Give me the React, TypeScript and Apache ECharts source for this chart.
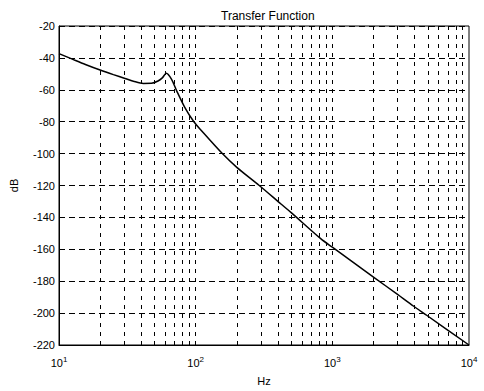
import React, { useEffect, useRef } from "react";
import * as echarts from "echarts";

const freqs = [10, 12.4, 15.6, 20, 25, 30.4, 35, 41.4, 47.5, 53, 57, 61, 66.5, 72.5, 83, 97, 110, 158, 200, 292, 421, 500, 822, 1000, 2000, 3000, 3940, 4930, 10000];
const magnitudes = [-37.3, -40.6, -44.1, -47.6, -50.5, -52.9, -54.6, -56, -55.9, -54.5, -52.5, -49.6, -53.3, -60.5, -70.8, -80, -85.5, -100.3, -108.6, -120, -131.6, -137, -153.3, -158.7, -177.4, -188.3, -195.7, -201.5, -220];
const gridFreqs = [20, 30, 40, 50, 60, 70, 80, 90, 100, 200, 300, 400, 500, 600, 700, 800, 900, 1000, 2000, 3000, 4000, 5000, 6000, 7000, 8000, 9000];
const yTicks = { min: -220, max: -20, interval: 20 };
const titleText = "Transfer Function";
const xName = "Hz";
const yName = "dB";

const FONT = "Liberation Sans, Arial, sans-serif";

export default function App() {
  const ref = useRef<HTMLDivElement>(null);
  useEffect(() => {
    if (!ref.current) return;
    const chart = echarts.init(ref.current, null, { renderer: "svg" });
    chart.setOption({
      animation: false,
      backgroundColor: "#fff",
      textStyle: { fontFamily: FONT, color: "#000" },
      title: {
        text: titleText,
        left: 216,
        top: 5,
        textStyle: { fontSize: 12, fontWeight: "normal", color: "#000", fontFamily: FONT },
      },
      grid: {
        left: 57,
        right: 15,
        top: 26,
        bottom: 41,
        show: true,
        borderColor: "#000",
        borderWidth: 1,
        backgroundColor: "transparent",
      },
      xAxis: {
        type: "log",
        logBase: 10,
        min: 10,
        max: 10000,
        name: xName,
        nameLocation: "middle",
        nameGap: 30,
        nameTextStyle: { fontSize: 11, color: "#000", fontFamily: FONT },
        axisLine: { show: true, lineStyle: { color: "#000", width: 1 } },
        axisTick: { show: false },
        splitLine: { show: false },
        axisLabel: {
          color: "#000",
          fontSize: 11,
          fontFamily: FONT,
          margin: 10,
          formatter: (v: number) => "10{s|" + Math.round(Math.log10(v)) + "}",
          rich: {
            s: { fontSize: 8, verticalAlign: "bottom", padding: [0, 0, 7, 0], fontFamily: FONT, color: "#000" },
          },
        },
      },
      yAxis: {
        type: "value",
        min: yTicks.min,
        max: yTicks.max,
        interval: yTicks.interval,
        name: yName,
        nameLocation: "middle",
        nameGap: 40,
        nameRotate: 90,
        nameTextStyle: { fontSize: 11, color: "#000", fontFamily: FONT },
        axisLine: { show: true, lineStyle: { color: "#000", width: 1 } },
        axisTick: { show: false },
        axisLabel: { color: "#000", fontSize: 11, fontFamily: FONT, margin: 4 },
        splitLine: {
          show: true,
          lineStyle: { color: "#000", width: 1, type: [6, 4] },
        },
      },
      series: [
        {
          type: "line",
          data: freqs.map((f, i) => [f, magnitudes[i]]),
          symbol: "none",
          smooth: 0.3,
          lineStyle: { color: "#000", width: 1.5 },
          z: 5,
          markLine: {
            silent: true,
            symbol: "none",
            label: { show: false },
            lineStyle: { color: "#000", width: 1, type: [4, 5] },
            data: gridFreqs.map((f) => ({ xAxis: f })),
          },
        },
      ],
    });
    return () => chart.dispose();
  }, []);
  return <div ref={ref} style={{ width: 484, height: 391, position: "absolute", left: 0, top: 0 }} />;
}
